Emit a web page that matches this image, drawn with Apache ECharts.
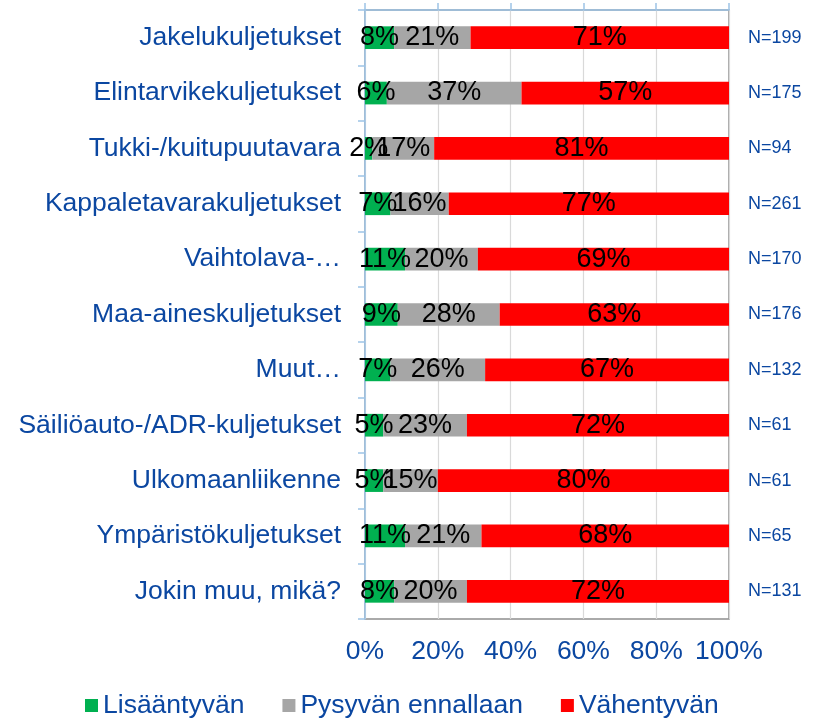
<!DOCTYPE html>
<html><head><meta charset="utf-8">
<script src="https://cdn.jsdelivr.net/npm/echarts@6/dist/echarts.min.js"></script>
<style>html,body{margin:0;padding:0;background:#fff}#c{width:816px;height:720px}</style>
</head><body><div id="c"></div>
<script>
const categories = ["Jakelukuljetukset","Elintarvikekuljetukset","Tukki-/kuitupuutavara","Kappaletavarakuljetukset","Vaihtolava-…","Maa-aineskuljetukset","Muut…","Säiliöauto-/ADR-kuljetukset","Ulkomaanliikenne","Ympäristökuljetukset","Jokin muu, mikä?"];
const nLabels = ["N=199","N=175","N=94","N=261","N=170","N=176","N=132","N=61","N=61","N=65","N=131"];
const increasing = [8,6,2,7,11,9,7,5,5,11,8];
const unchanged = [21,37,17,16,20,28,26,23,15,21,20];
const decreasing = [71,57,81,77,69,63,67,72,80,68,72];
const seriesNames = ["Lisääntyvän","Pysyvän ennallaan","Vähentyvän"];
const colors = ["#00B050","#A6A6A6","#FF0000"];
const blue = "#0B47A1";
const font = "Liberation Sans, Arial, sans-serif";

const chart = echarts.init(document.getElementById('c'));
const mk = (name, data, color) => ({
  name, type: 'bar', stack: 'a', data, barWidth: '41%',
  itemStyle: {color},
  label: {show: true, position: 'inside', formatter: '{c}%', color: '#000', fontSize: 27, fontFamily: font}
});
chart.setOption({
  animation: false,
  grid: {left: 365, right: 87, top: 10, bottom: 101, show: true, borderColor: '#8f8f8f', borderWidth: 1.5},
  legend: {
    top: 687, left: 80, itemWidth: 13, itemHeight: 13, itemGap: 38, icon: 'rect',
    textStyle: {color: blue, fontSize: 26.5, fontFamily: font},
    data: seriesNames
  },
  xAxis: [
    {type: 'value', min: 0, max: 100, interval: 20, position: 'bottom',
     axisLine: {show: false}, axisTick: {show: false},
     splitLine: {show: true, lineStyle: {color: '#D9D9D9', width: 1.2}},
     axisLabel: {formatter: '{value}%', color: blue, fontSize: 26.5, fontFamily: font, margin: 19}},
    {type: 'value', min: 0, max: 100, interval: 20, position: 'top',
     axisLine: {show: true, lineStyle: {color: '#9DC3E6', width: 1.5}},
     axisTick: {show: true, length: 7, lineStyle: {color: '#9DC3E6', width: 1.5}},
     axisLabel: {show: false}, splitLine: {show: false}}
  ],
  yAxis: [
    {type: 'category', data: categories, inverse: true,
     axisLine: {show: true, lineStyle: {color: '#9DC3E6', width: 1.5}},
     axisTick: {show: true, length: 7, lineStyle: {color: '#9DC3E6', width: 1.5}},
     axisLabel: {color: blue, fontSize: 26.5, fontFamily: font, margin: 24}},
    {type: 'category', data: nLabels, inverse: true, position: 'right',
     axisLine: {show: false}, axisTick: {show: false},
     axisLabel: {color: blue, fontSize: 18, fontFamily: font, margin: 19, align: 'left'}}
  ],
  series: [
    mk(seriesNames[0], increasing, colors[0]),
    mk(seriesNames[1], unchanged, colors[1]),
    mk(seriesNames[2], decreasing, colors[2])
  ]
});
</script></body></html>
